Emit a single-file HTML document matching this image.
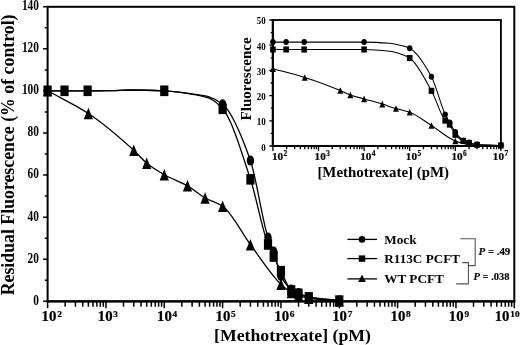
<!DOCTYPE html><html><head><meta charset="utf-8"><title>Figure</title><style>html,body{margin:0;padding:0;background:#fff;}body{width:520px;height:345px;overflow:hidden;font-family:"Liberation Serif",serif;}svg{display:block;filter:grayscale(1) blur(0.3px);}</style></head><body><svg width="520" height="345" viewBox="0 0 520 345">
<rect width="520" height="345" fill="#fff"/>
<g font-family="Liberation Serif, serif" font-weight="bold" fill="#000">
<rect x="47.6" y="6.8" width="466.70" height="294.5" fill="none" stroke="#000" stroke-width="2"/>
<path d="M46.6,301.3 H515.3" fill="none" stroke="#000" stroke-width="2.2"/>
<path d="M47.60,301.3 v7.0 M65.16,301.3 v5.5 M75.43,301.3 v5.5 M82.72,301.3 v5.5 M88.38,301.3 v5.5 M93.00,301.3 v5.5 M96.90,301.3 v5.5 M100.28,301.3 v5.5 M103.27,301.3 v5.5 M105.94,301.3 v7.0 M123.50,301.3 v5.5 M133.77,301.3 v5.5 M141.06,301.3 v5.5 M146.71,301.3 v5.5 M151.33,301.3 v5.5 M155.24,301.3 v5.5 M158.62,301.3 v5.5 M161.61,301.3 v5.5 M164.27,301.3 v7.0 M181.84,301.3 v5.5 M192.11,301.3 v5.5 M199.40,301.3 v5.5 M205.05,301.3 v5.5 M209.67,301.3 v5.5 M213.58,301.3 v5.5 M216.96,301.3 v5.5 M219.94,301.3 v5.5 M222.61,301.3 v7.0 M240.17,301.3 v5.5 M250.45,301.3 v5.5 M257.74,301.3 v5.5 M263.39,301.3 v5.5 M268.01,301.3 v5.5 M271.91,301.3 v5.5 M275.30,301.3 v5.5 M278.28,301.3 v5.5 M280.95,301.3 v7.0 M298.51,301.3 v5.5 M308.78,301.3 v5.5 M316.07,301.3 v5.5 M321.73,301.3 v5.5 M326.35,301.3 v5.5 M330.25,301.3 v5.5 M333.63,301.3 v5.5 M336.62,301.3 v5.5 M339.29,301.3 v7.0 M356.85,301.3 v5.5 M367.12,301.3 v5.5 M374.41,301.3 v5.5 M380.06,301.3 v5.5 M384.68,301.3 v5.5 M388.59,301.3 v5.5 M391.97,301.3 v5.5 M394.96,301.3 v5.5 M397.62,301.3 v7.0 M415.19,301.3 v5.5 M425.46,301.3 v5.5 M432.75,301.3 v5.5 M438.40,301.3 v5.5 M443.02,301.3 v5.5 M446.93,301.3 v5.5 M450.31,301.3 v5.5 M453.29,301.3 v5.5 M455.96,301.3 v7.0 M473.52,301.3 v5.5 M483.80,301.3 v5.5 M491.09,301.3 v5.5 M496.74,301.3 v5.5 M501.36,301.3 v5.5 M505.26,301.3 v5.5 M508.65,301.3 v5.5 M511.63,301.3 v5.5 M514.30,301.3 v7.0" stroke="#000" stroke-width="1.5" fill="none"/>
<path d="M47.6,301.30 h-4.5 M47.6,280.26 h-2.8 M47.6,259.23 h-4.5 M47.6,238.19 h-2.8 M47.6,217.16 h-4.5 M47.6,196.12 h-2.8 M47.6,175.09 h-4.5 M47.6,154.05 h-2.8 M47.6,133.01 h-4.5 M47.6,111.98 h-2.8 M47.6,90.94 h-4.5 M47.6,69.91 h-2.8 M47.6,48.87 h-4.5 M47.6,27.84 h-2.8 M47.6,6.80 h-4.5" stroke="#000" stroke-width="1.5" fill="none"/>
<text transform="translate(38.9,304.70) scale(0.8,1)" font-size="14.2" text-anchor="end">0</text>
<text transform="translate(38.9,262.63) scale(0.8,1)" font-size="14.2" text-anchor="end">20</text>
<text transform="translate(38.9,220.56) scale(0.8,1)" font-size="14.2" text-anchor="end">40</text>
<text transform="translate(38.9,178.49) scale(0.8,1)" font-size="14.2" text-anchor="end">60</text>
<text transform="translate(38.9,136.41) scale(0.8,1)" font-size="14.2" text-anchor="end">80</text>
<text transform="translate(38.9,94.34) scale(0.8,1)" font-size="14.2" text-anchor="end">100</text>
<text transform="translate(38.9,52.27) scale(0.8,1)" font-size="14.2" text-anchor="end">120</text>
<text transform="translate(38.9,10.20) scale(0.8,1)" font-size="14.2" text-anchor="end">140</text>
<text transform="translate(41.60,320.6) scale(1.06,1)" font-size="14" stroke="#000" stroke-width="0.22">10<tspan font-size="8.8" dy="-4.0" dx="0.7">2</tspan></text>
<text transform="translate(97.74,320.6) scale(1.06,1)" font-size="14" stroke="#000" stroke-width="0.22">10<tspan font-size="8.8" dy="-4.0" dx="0.7">3</tspan></text>
<text transform="translate(156.97,320.6) scale(1.06,1)" font-size="14" stroke="#000" stroke-width="0.22">10<tspan font-size="8.8" dy="-4.0" dx="0.7">4</tspan></text>
<text transform="translate(215.51,320.6) scale(1.06,1)" font-size="14" stroke="#000" stroke-width="0.22">10<tspan font-size="8.8" dy="-4.0" dx="0.7">5</tspan></text>
<text transform="translate(274.25,320.6) scale(1.06,1)" font-size="14" stroke="#000" stroke-width="0.22">10<tspan font-size="8.8" dy="-4.0" dx="0.7">6</tspan></text>
<text transform="translate(332.19,320.6) scale(1.06,1)" font-size="14" stroke="#000" stroke-width="0.22">10<tspan font-size="8.8" dy="-4.0" dx="0.7">7</tspan></text>
<text transform="translate(390.53,320.6) scale(1.06,1)" font-size="14" stroke="#000" stroke-width="0.22">10<tspan font-size="8.8" dy="-4.0" dx="0.7">8</tspan></text>
<text transform="translate(448.86,320.6) scale(1.06,1)" font-size="14" stroke="#000" stroke-width="0.22">10<tspan font-size="8.8" dy="-4.0" dx="0.7">9</tspan></text>
<text transform="translate(494.70,320.6) scale(1.06,1)" font-size="14" stroke="#000" stroke-width="0.22">10<tspan font-size="8.8" dy="-4.0" dx="0.7">10</tspan></text>
<text x="292.5" y="340.7" font-size="17.75" text-anchor="middle">[Methotrexate] (pM)</text>
<text transform="translate(14.3,154.9) rotate(-90)" font-size="17.8" text-anchor="middle">Residual Fluorescence (% of control)</text>
<path d="M47.60,90.80 C53.24,90.80 58.88,90.80 64.52,90.80 C72.21,90.80 79.91,90.80 87.60,90.80 C95.07,90.80 102.53,90.76 110.00,90.70 C117.33,90.64 124.67,90.00 132.00,90.00 C142.76,90.00 153.52,90.36 164.27,90.80 C174.85,91.23 185.42,92.83 196.00,94.40 C200.33,95.04 204.67,95.67 209.00,96.90 C213.54,98.18 218.07,100.65 222.61,104.30 C231.89,111.76 241.17,134.19 250.45,160.60 C256.30,177.26 262.15,219.82 268.01,237.50 C269.89,243.19 271.78,246.17 273.66,251.50 C276.09,258.37 278.52,271.17 280.95,275.90 C284.37,282.56 287.80,287.15 291.22,289.50 C293.65,291.17 296.08,291.96 298.51,293.00 C301.94,294.46 305.36,296.24 308.78,296.90 C318.95,298.87 329.12,299.23 339.29,300.40" fill="none" stroke="#000" stroke-width="1.3"/>
<path d="M47.60,90.80 C53.24,90.80 58.88,90.80 64.52,90.80 C72.21,90.80 79.91,90.80 87.60,90.80 C95.07,90.80 102.53,90.76 110.00,90.70 C117.33,90.64 124.67,90.00 132.00,90.00 C142.76,90.00 153.52,90.35 164.27,90.80 C174.85,91.24 185.42,92.91 196.00,94.80 C200.33,95.58 204.67,96.51 209.00,98.20 C213.54,99.97 218.07,103.70 222.61,108.80 C231.89,119.22 241.17,150.96 250.45,179.30 C256.30,197.18 262.15,229.39 268.01,244.50 C269.89,249.36 271.78,252.60 273.66,256.50 C276.09,261.53 278.52,266.46 280.95,271.20 C284.37,277.87 287.80,288.09 291.22,290.50 C293.65,292.21 296.08,292.83 298.51,293.80 C301.94,295.16 305.36,296.79 308.78,297.40 C318.95,299.20 329.12,299.53 339.29,300.60" fill="none" stroke="#000" stroke-width="1.3"/>
<path d="M47.60,90.80 C61.19,98.37 74.78,104.56 88.38,113.50 C103.51,123.46 118.64,136.51 133.77,150.30 C138.09,154.23 142.40,159.75 146.71,163.20 C152.57,167.88 158.42,171.44 164.27,174.70 C172.01,179.01 179.75,181.38 187.49,185.80 C193.34,189.14 199.20,194.73 205.05,198.00 C210.90,201.27 216.76,202.26 222.61,206.20 C231.89,212.44 241.17,232.27 250.45,244.70 C260.61,258.32 270.78,274.63 280.95,284.30 C284.37,287.56 287.80,290.67 291.22,292.50 C293.65,293.80 296.08,294.69 298.51,295.50 C301.94,296.64 305.36,297.80 308.78,298.30 C318.95,299.78 329.12,300.10 339.29,301.00" fill="none" stroke="#000" stroke-width="1.3"/>
<ellipse cx="47.60" cy="90.80" rx="3.7" ry="5.0"/>
<ellipse cx="64.52" cy="90.80" rx="3.7" ry="5.0"/>
<ellipse cx="87.60" cy="90.80" rx="3.7" ry="5.0"/>
<ellipse cx="164.27" cy="90.80" rx="3.7" ry="5.0"/>
<ellipse cx="222.61" cy="104.30" rx="3.7" ry="5.0"/>
<ellipse cx="250.45" cy="160.60" rx="3.7" ry="5.0"/>
<ellipse cx="268.01" cy="237.50" rx="3.7" ry="5.0"/>
<ellipse cx="273.66" cy="251.50" rx="3.7" ry="5.0"/>
<ellipse cx="280.95" cy="275.90" rx="3.7" ry="5.0"/>
<ellipse cx="291.22" cy="289.50" rx="3.7" ry="5.0"/>
<ellipse cx="298.51" cy="293.00" rx="3.7" ry="5.0"/>
<ellipse cx="308.78" cy="296.90" rx="3.7" ry="5.0"/>
<ellipse cx="339.29" cy="300.40" rx="3.7" ry="5.0"/>
<rect x="43.50" y="85.50" width="8.2" height="10.6"/>
<rect x="60.42" y="85.50" width="8.2" height="10.6"/>
<rect x="83.50" y="85.50" width="8.2" height="10.6"/>
<rect x="160.17" y="85.50" width="8.2" height="10.6"/>
<rect x="218.51" y="103.50" width="8.2" height="10.6"/>
<rect x="246.35" y="174.00" width="8.2" height="10.6"/>
<rect x="263.91" y="239.20" width="8.2" height="10.6"/>
<rect x="269.56" y="251.20" width="8.2" height="10.6"/>
<rect x="276.85" y="265.90" width="8.2" height="10.6"/>
<rect x="287.12" y="285.20" width="8.2" height="10.6"/>
<rect x="294.41" y="288.50" width="8.2" height="10.6"/>
<rect x="304.68" y="292.10" width="8.2" height="10.6"/>
<rect x="335.19" y="295.30" width="8.2" height="10.6"/>
<path d="M47.60,85.00 L52.20,96.60 L43.00,96.60Z"/>
<path d="M88.38,107.70 L92.98,119.30 L83.78,119.30Z"/>
<path d="M133.77,144.50 L138.37,156.10 L129.17,156.10Z"/>
<path d="M146.71,157.40 L151.31,169.00 L142.11,169.00Z"/>
<path d="M164.27,168.90 L168.87,180.50 L159.67,180.50Z"/>
<path d="M187.49,180.00 L192.09,191.60 L182.89,191.60Z"/>
<path d="M205.05,192.20 L209.65,203.80 L200.45,203.80Z"/>
<path d="M222.61,200.40 L227.21,212.00 L218.01,212.00Z"/>
<path d="M250.45,238.90 L255.05,250.50 L245.85,250.50Z"/>
<path d="M280.95,278.50 L285.55,290.10 L276.35,290.10Z"/>
<path d="M291.22,286.70 L295.82,298.30 L286.62,298.30Z"/>
<path d="M298.51,289.70 L303.11,301.30 L293.91,301.30Z"/>
<path d="M308.78,292.50 L313.38,304.10 L304.18,304.10Z"/>
<path d="M339.29,295.20 L343.89,306.80 L334.69,306.80Z"/>
<rect x="272.9" y="20.0" width="228.00" height="126.0" fill="#fff" stroke="#000" stroke-width="1.85"/>
<path d="M272.0,146.0 H501.79999999999995" fill="none" stroke="#000" stroke-width="2.0"/>
<path d="M272.75,19.1 V147.0" fill="none" stroke="#000" stroke-width="2.0"/>
<path d="M272.90,146.0 v4.9 M286.63,146.0 v3.3 M294.66,146.0 v3.3 M300.35,146.0 v3.3 M304.77,146.0 v3.3 M308.38,146.0 v3.3 M311.44,146.0 v3.3 M314.08,146.0 v3.3 M316.41,146.0 v3.3 M318.50,146.0 v4.9 M332.23,146.0 v3.3 M340.26,146.0 v3.3 M345.95,146.0 v3.3 M350.37,146.0 v3.3 M353.98,146.0 v3.3 M357.04,146.0 v3.3 M359.68,146.0 v3.3 M362.01,146.0 v3.3 M364.10,146.0 v4.9 M377.83,146.0 v3.3 M385.86,146.0 v3.3 M391.55,146.0 v3.3 M395.97,146.0 v3.3 M399.58,146.0 v3.3 M402.64,146.0 v3.3 M405.28,146.0 v3.3 M407.61,146.0 v3.3 M409.70,146.0 v4.9 M423.43,146.0 v3.3 M431.46,146.0 v3.3 M437.15,146.0 v3.3 M441.57,146.0 v3.3 M445.18,146.0 v3.3 M448.24,146.0 v3.3 M450.88,146.0 v3.3 M453.21,146.0 v3.3 M455.30,146.0 v4.9 M469.03,146.0 v3.3 M477.06,146.0 v3.3 M482.75,146.0 v3.3 M487.17,146.0 v3.3 M490.78,146.0 v3.3 M493.84,146.0 v3.3 M496.48,146.0 v3.3 M498.81,146.0 v3.3 M500.90,146.0 v4.9" stroke="#000" stroke-width="1.3" fill="none"/>
<path d="M272.9,146.00 h-3.6 M272.9,133.40 h-2.2 M272.9,120.80 h-3.6 M272.9,108.20 h-2.2 M272.9,95.60 h-3.6 M272.9,83.00 h-2.2 M272.9,70.40 h-3.6 M272.9,57.80 h-2.2 M272.9,45.20 h-3.6 M272.9,32.60 h-2.2 M272.9,20.00 h-3.6" stroke="#000" stroke-width="1.3" fill="none"/>
<text transform="translate(265.6,151.20) scale(0.8,1)" font-size="11.2" text-anchor="end">0</text>
<text transform="translate(265.6,125.20) scale(0.8,1)" font-size="11.2" text-anchor="end">10</text>
<text transform="translate(265.6,100.00) scale(0.8,1)" font-size="11.2" text-anchor="end">20</text>
<text transform="translate(265.6,74.80) scale(0.8,1)" font-size="11.2" text-anchor="end">30</text>
<text transform="translate(265.6,49.60) scale(0.8,1)" font-size="11.2" text-anchor="end">40</text>
<text transform="translate(265.6,24.40) scale(0.8,1)" font-size="11.2" text-anchor="end">50</text>
<text transform="translate(272.00,159.8) scale(1.0,1)" font-size="11.2" stroke="#000" stroke-width="0.2">10<tspan font-size="7.4" dy="-3.4" dx="0.4">2</tspan></text>
<text transform="translate(314.60,159.8) scale(1.0,1)" font-size="11.2" stroke="#000" stroke-width="0.2">10<tspan font-size="7.4" dy="-3.4" dx="0.4">3</tspan></text>
<text transform="translate(360.20,159.8) scale(1.0,1)" font-size="11.2" stroke="#000" stroke-width="0.2">10<tspan font-size="7.4" dy="-3.4" dx="0.4">4</tspan></text>
<text transform="translate(405.80,159.8) scale(1.0,1)" font-size="11.2" stroke="#000" stroke-width="0.2">10<tspan font-size="7.4" dy="-3.4" dx="0.4">5</tspan></text>
<text transform="translate(451.40,159.8) scale(1.0,1)" font-size="11.2" stroke="#000" stroke-width="0.2">10<tspan font-size="7.4" dy="-3.4" dx="0.4">6</tspan></text>
<text transform="translate(492.80,159.8) scale(1.0,1)" font-size="11.2" stroke="#000" stroke-width="0.2">10<tspan font-size="7.4" dy="-3.4" dx="0.4">7</tspan></text>
<text x="383.2" y="176.6" font-size="14.9" text-anchor="middle">[Methotrexate] (pM)</text>
<text transform="translate(251.2,78.9) rotate(-90)" font-size="15" text-anchor="middle">Fluorescence</text>
<path d="M272.90,42.10 C277.31,42.10 281.72,42.10 286.13,42.10 C292.14,42.10 298.16,42.10 304.17,42.10 C324.15,42.10 344.12,42.10 364.10,42.10 C372.63,42.10 381.17,42.61 389.70,43.30 C393.57,43.61 397.43,44.47 401.30,45.40 C404.10,46.07 406.90,46.86 409.70,48.25 C416.95,51.85 424.20,63.49 431.46,76.70 C436.03,85.04 440.61,104.85 445.18,114.50 C446.66,117.61 448.13,119.94 449.60,122.50 C451.50,125.80 453.40,129.51 455.30,132.00 C457.98,135.51 460.65,139.08 463.33,140.50 C465.23,141.51 467.13,142.05 469.03,142.60 C471.70,143.38 474.38,144.30 477.06,144.50 C485.00,145.09 492.95,145.10 500.90,145.40" fill="none" stroke="#000" stroke-width="1.05"/>
<path d="M272.90,49.50 C277.31,49.50 281.72,49.50 286.13,49.50 C292.14,49.50 298.16,49.50 304.17,49.50 C324.15,49.50 344.12,49.50 364.10,49.50 C372.63,49.50 381.17,50.29 389.70,51.30 C393.57,51.76 397.43,52.94 401.30,54.20 C404.10,55.12 406.90,56.19 409.70,58.00 C416.95,62.68 424.20,77.72 431.46,90.80 C436.03,99.05 440.61,115.14 445.18,120.60 C446.66,122.36 448.13,122.85 449.60,124.60 C451.50,126.85 453.40,132.70 455.30,134.80 C457.98,137.75 460.65,139.73 463.33,141.00 C465.23,141.90 467.13,142.47 469.03,143.00 C471.70,143.74 474.38,144.66 477.06,144.80 C485.00,145.21 492.95,145.20 500.90,145.40" fill="none" stroke="#000" stroke-width="1.05"/>
<path d="M272.90,68.75 C283.52,71.67 294.15,74.17 304.77,77.50 C316.60,81.20 328.43,85.66 340.26,90.50 C343.63,91.88 347.00,93.82 350.37,95.00 C354.95,96.60 359.52,97.59 364.10,98.90 C370.15,100.63 376.20,102.26 382.25,104.10 C386.82,105.49 391.40,107.16 395.97,108.50 C400.55,109.84 405.12,110.54 409.70,112.20 C416.95,114.84 424.20,120.93 431.46,125.50 C439.40,130.51 447.35,137.84 455.30,141.00 C457.98,142.06 460.65,142.87 463.33,143.50 C465.23,143.95 467.13,144.39 469.03,144.60 C471.70,144.90 474.38,145.12 477.06,145.20 C485.00,145.44 492.95,145.47 500.90,145.60" fill="none" stroke="#000" stroke-width="1.05"/>
<ellipse cx="272.90" cy="42.10" rx="2.75" ry="3.0"/>
<ellipse cx="286.13" cy="42.10" rx="2.75" ry="3.0"/>
<ellipse cx="304.17" cy="42.10" rx="2.75" ry="3.0"/>
<ellipse cx="364.10" cy="42.10" rx="2.75" ry="3.0"/>
<ellipse cx="409.70" cy="48.25" rx="2.75" ry="3.0"/>
<ellipse cx="431.46" cy="76.70" rx="2.75" ry="3.0"/>
<ellipse cx="445.18" cy="114.50" rx="2.75" ry="3.0"/>
<ellipse cx="449.60" cy="122.50" rx="2.75" ry="3.0"/>
<ellipse cx="455.30" cy="132.00" rx="2.75" ry="3.0"/>
<ellipse cx="463.33" cy="140.50" rx="2.75" ry="3.0"/>
<ellipse cx="469.03" cy="142.60" rx="2.75" ry="3.0"/>
<ellipse cx="477.06" cy="144.50" rx="2.75" ry="3.0"/>
<ellipse cx="500.90" cy="145.40" rx="2.75" ry="3.0"/>
<rect x="270.10" y="46.45" width="5.6" height="6.1"/>
<rect x="283.33" y="46.45" width="5.6" height="6.1"/>
<rect x="301.37" y="46.45" width="5.6" height="6.1"/>
<rect x="361.30" y="46.45" width="5.6" height="6.1"/>
<rect x="406.90" y="54.95" width="5.6" height="6.1"/>
<rect x="428.66" y="87.75" width="5.6" height="6.1"/>
<rect x="442.38" y="117.55" width="5.6" height="6.1"/>
<rect x="446.80" y="121.55" width="5.6" height="6.1"/>
<rect x="452.50" y="131.75" width="5.6" height="6.1"/>
<rect x="460.53" y="137.95" width="5.6" height="6.1"/>
<rect x="466.23" y="139.95" width="5.6" height="6.1"/>
<rect x="474.26" y="141.75" width="5.6" height="6.1"/>
<rect x="498.10" y="142.35" width="5.6" height="6.1"/>
<path d="M272.90,65.45 L275.90,72.05 L269.90,72.05Z"/>
<path d="M304.77,74.20 L307.77,80.80 L301.77,80.80Z"/>
<path d="M340.26,87.20 L343.26,93.80 L337.26,93.80Z"/>
<path d="M350.37,91.70 L353.37,98.30 L347.37,98.30Z"/>
<path d="M364.10,95.60 L367.10,102.20 L361.10,102.20Z"/>
<path d="M382.25,100.80 L385.25,107.40 L379.25,107.40Z"/>
<path d="M395.97,105.20 L398.97,111.80 L392.97,111.80Z"/>
<path d="M409.70,108.90 L412.70,115.50 L406.70,115.50Z"/>
<path d="M431.46,122.20 L434.46,128.80 L428.46,128.80Z"/>
<path d="M455.30,137.70 L458.30,144.30 L452.30,144.30Z"/>
<path d="M347.4,239.4 H377" stroke="#000" stroke-width="1.3" fill="none"/>
<path d="M347.4,258.6 H377" stroke="#000" stroke-width="1.3" fill="none"/>
<path d="M347.4,278.9 H377" stroke="#000" stroke-width="1.3" fill="none"/>
<ellipse cx="362.00" cy="239.40" rx="3.3" ry="3.3"/>
<rect x="358.80" y="255.40" width="6.4" height="6.4"/>
<path d="M362.00,274.60 L365.80,282.00 L358.20,282.00Z"/>
<text x="384.3" y="243.8" font-size="13.2">Mock</text>
<text x="384.3" y="262.8" font-size="13.2">R113C PCFT</text>
<text x="384.3" y="283.0" font-size="13.2">WT PCFT</text>
<path d="M460.3,238.7 H475.2 V265.6 H468.4 M462.3,262.6 H468.4 V283.9 H456.2" fill="none" stroke="#555" stroke-width="1.1"/>
<text x="478.6" y="254.7" font-size="10.8" stroke="#000" stroke-width="0.15"><tspan font-style="italic">P</tspan> = .49</text>
<text x="473.5" y="280.1" font-size="10.5" stroke="#000" stroke-width="0.15"><tspan font-style="italic">P</tspan> = .038</text>
</g></svg></body></html>
